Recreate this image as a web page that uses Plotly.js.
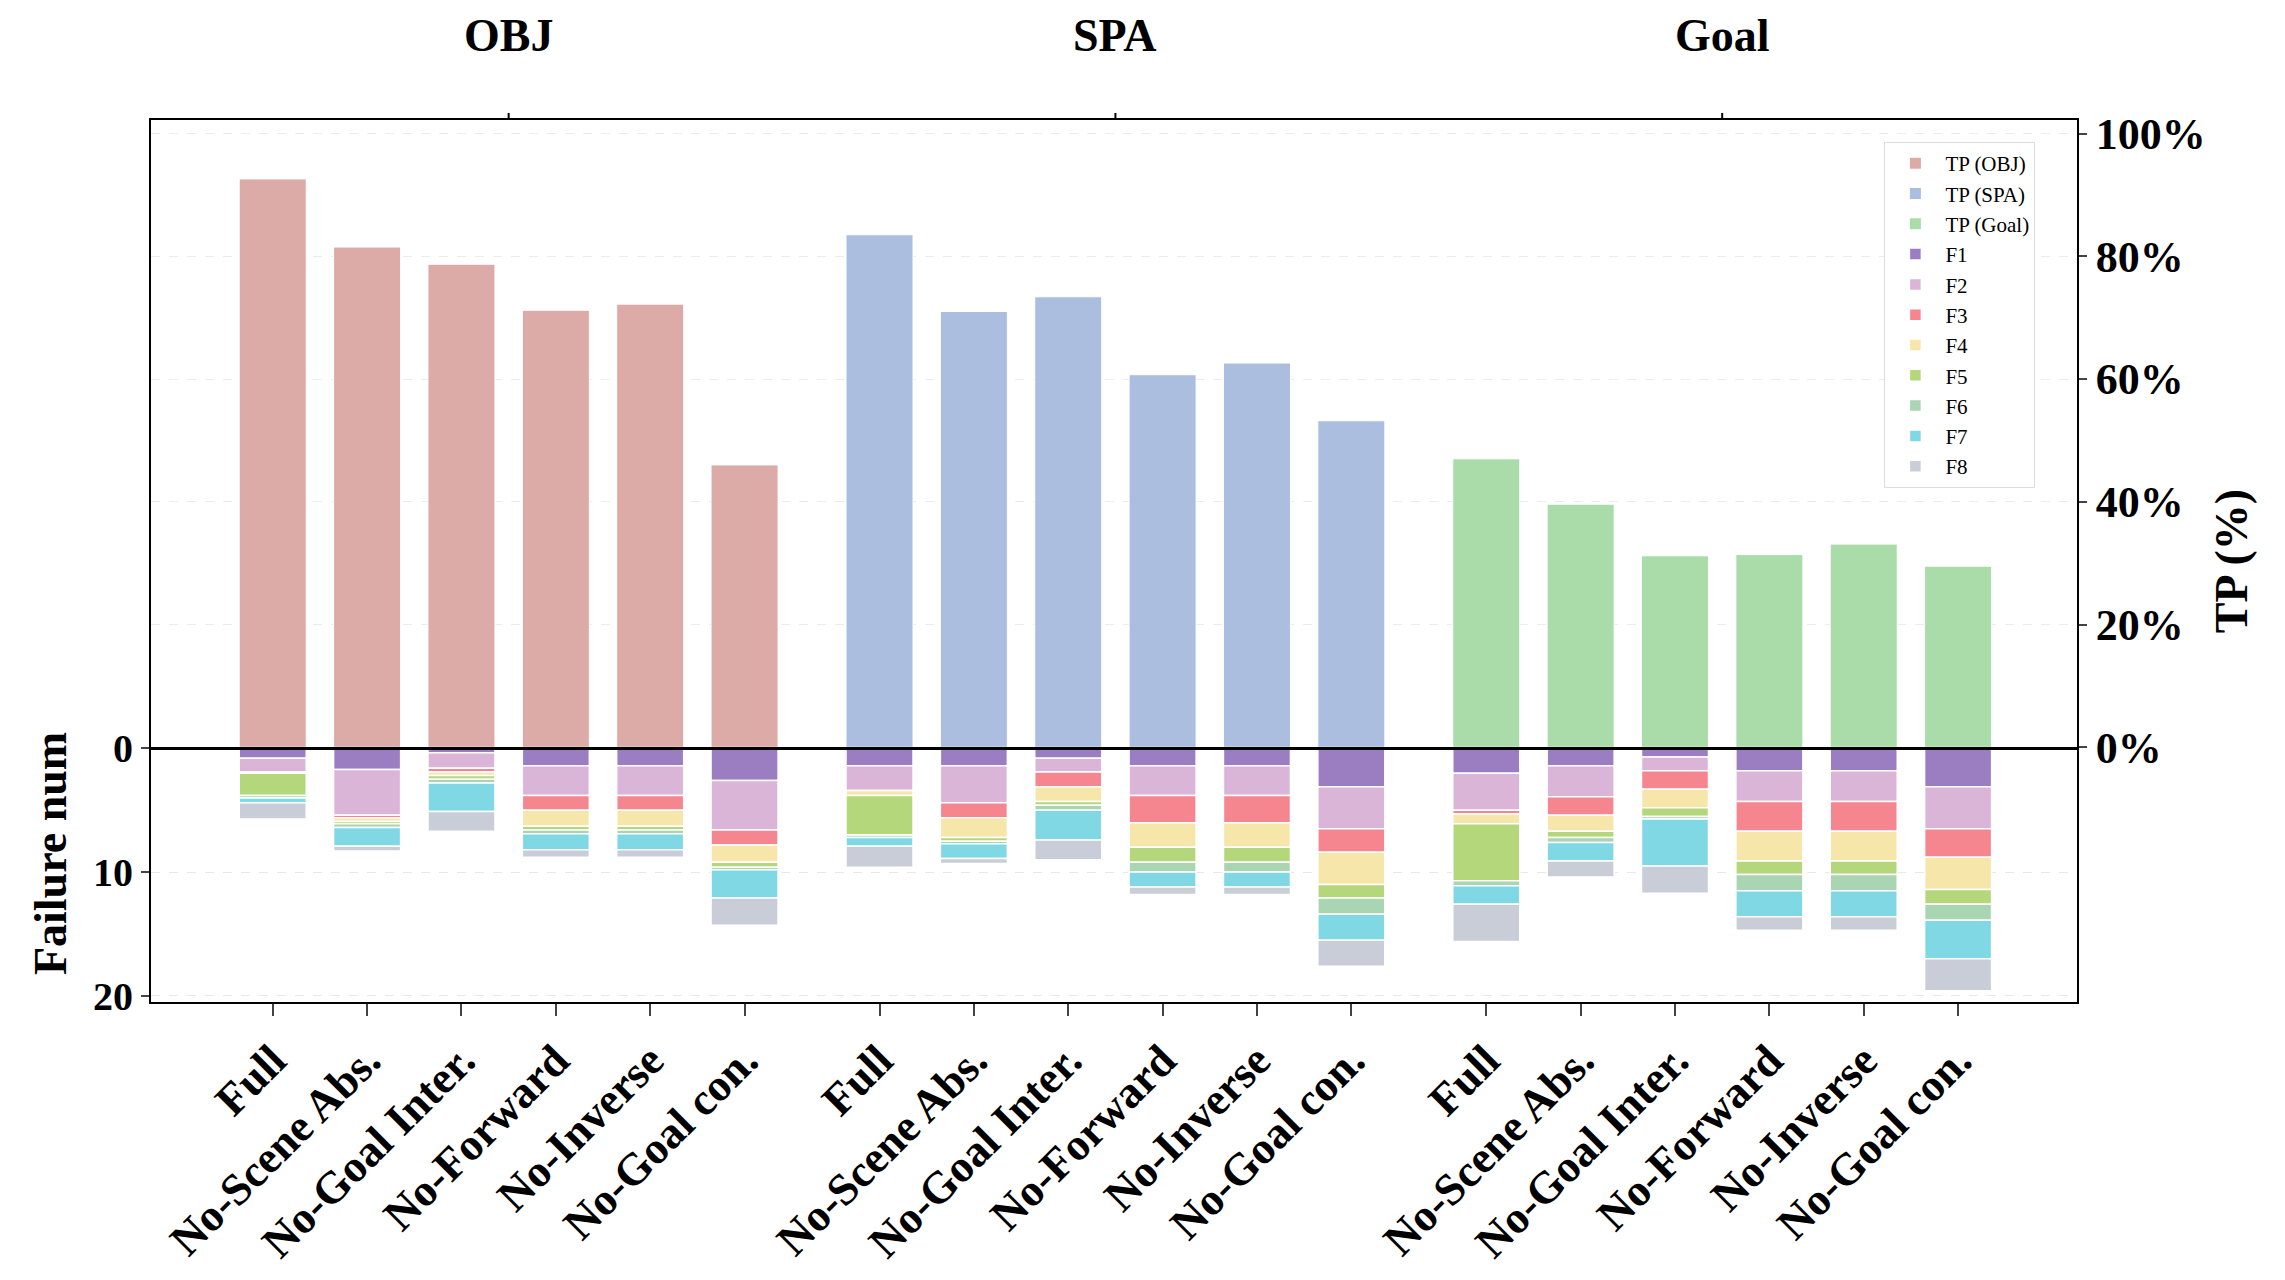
<!DOCTYPE html>
<html><head><meta charset="utf-8">
<script src="https://cdn.plot.ly/plotly-3.0.1.min.js"></script>
<style>body{margin:0;background:#fff}</style></head>
<body><div id="c" style="width:2285px;height:1280px"></div>
<script>
const groups = ['OBJ','SPA','Goal'];
const variants = ['Full','No-Scene Abs.','No-Goal Inter.','No-Forward','No-Inverse','No-Goal con.'];
const tpOBJ  = [92.6, 81.5, 78.7, 71.2, 72.2, 46.0];
const tpSPA  = [83.5, 71.0, 73.4, 60.7, 62.6, 53.2];
const tpGoal = [47.0, 39.6, 31.2, 31.4, 33.1, 29.5];
// failures: 18 bars (OBJ x6, SPA x6, Goal x6)
const F1 = [0.8,1.7,0.35,1.4,1.4,2.6, 1.4,1.4,0.8,1.4,1.4,3.1, 2.0,1.4,0.7,1.8,1.8,3.1];
const F2 = [1.1,3.7,1.25,2.4,2.4,4.0, 2.0,3.0,1.1,2.4,2.4,3.4, 3.0,2.5,1.1,2.5,2.5,3.4];
const F3 = [0.0,0.2,0.3,1.2,1.2,1.2, 0.0,1.2,1.2,2.2,2.2,1.9, 0.3,1.5,1.5,2.4,2.4,2.3];
const F4 = [0.1,0.3,0.3,1.3,1.3,1.4, 0.4,1.6,1.2,2.0,2.0,2.6, 0.8,1.3,1.5,2.4,2.4,2.6];
const F5 = [1.8,0.2,0.3,0.3,0.3,0.4, 3.2,0.3,0.3,1.2,1.2,1.1, 4.6,0.5,0.7,1.1,1.1,1.2];
const F6 = [0.2,0.3,0.3,0.3,0.3,0.2, 0.2,0.2,0.4,0.8,0.8,1.3, 0.4,0.4,0.2,1.3,1.3,1.3];
const F7 = [0.4,1.5,2.3,1.3,1.3,2.3, 0.7,1.2,2.4,1.2,1.2,2.1, 1.5,1.5,3.8,2.1,2.1,3.1];
const F8 = [1.3,0.4,1.6,0.6,0.6,2.2, 1.7,0.4,1.6,0.6,0.6,2.1, 3.0,1.3,2.2,1.1,1.1,2.6];
const fNames = ['F1','F2','F3','F4','F5','F6','F7','F8'];
const fData = [F1,F2,F3,F4,F5,F6,F7,F8];
const fColors = ['#9b7dc1','#dbb5d8','#f5858f','#f7e6aa','#b5d77c','#a9d5b3','#80d8e4','#c9cdd7'];
const tpColors = ['#dcaaa7','#abbee0','#aadcaa'];
const groupGap = 6.43;
const xs = [];
groups.forEach((g,gi)=>variants.forEach((v,vi)=>xs.push(gi*groupGap+vi)));
const font = 'Liberation Serif, Times New Roman, serif';
const traces = [];
[tpOBJ,tpSPA,tpGoal].forEach((arr,gi)=>{
  traces.push({type:'bar',name:'TP ('+groups[gi]+')',x:xs.slice(gi*6,gi*6+6),y:arr,yaxis:'y2',
    width:0.71,marker:{color:tpColors[gi],line:{color:'#fff',width:1}}});
});
fData.forEach((arr,i)=>{
  traces.push({type:'bar',name:fNames[i],x:xs,y:arr.map(v=>-v),yaxis:'y',
    width:0.71,marker:{color:fColors[i],line:{color:'#fff',width:1.5}}});
});
const annotations = groups.map((g,gi)=>({text:'<b>'+g+'</b>',x:gi*groupGap+2.5,xref:'x',y:1.0,yref:'paper',
  yshift:112,showarrow:false,font:{family:font,size:46,color:'#000'}}));
annotations.push({text:'<b>Failure num</b>',textangle:-90,xref:'paper',x:0,xshift:-128,yref:'y',y:-8.5,
  showarrow:false,font:{family:font,size:46,color:'#000'}});
const shapes = [{type:'line',xref:'paper',x0:0,x1:1,yref:'y',y0:0,y1:0,line:{color:'#000',width:3}}];
groups.forEach((g,gi)=>shapes.push({type:'line',xref:'x',x0:gi*groupGap+2.5,x1:gi*groupGap+2.5,yref:'paper',y0:1,y1:1.008,line:{color:'#000',width:2}}));
const layout = {
  width:2285,height:1280,margin:{l:151,r:208,t:120,b:278},
  paper_bgcolor:'#fff',plot_bgcolor:'#fff',barmode:'relative',
  font:{family:font,color:'#000'},
  xaxis:{range:[-1.29,19.12],tickvals:xs,ticktext:xs.map((x,i)=>'<b>'+variants[i%6]+'</b>'),
    tickangle:-45,tickfont:{size:45,family:font},ticks:'outside',ticklen:12,tickwidth:2,
    showline:true,linecolor:'#000',linewidth:2,mirror:true,showgrid:false,zeroline:false},
  yaxis:{range:[-20.5,50.8],tickvals:[0,-10,-20],ticktext:['<b>0</b>','<b>10</b>','<b>20</b>'],
    tickfont:{size:40,family:font},ticks:'outside',ticklen:8,tickwidth:2,
    showline:true,linecolor:'#000',linewidth:2,showgrid:true,gridcolor:'#e8e8e8',griddash:'dash',zeroline:false},
  yaxis2:{overlaying:'y',side:'right',range:[-41.5,102.2],tickvals:[0,20,40,60,80,100],
    ticktext:['<b>0%</b>','<b>20%</b>','<b>40%</b>','<b>60%</b>','<b>80%</b>','<b>100%</b>'],
    tickfont:{size:44,family:font},ticks:'outside',ticklen:8,tickwidth:2,
    showline:true,linecolor:'#000',linewidth:2,showgrid:true,gridcolor:'#ececec',griddash:'dash',zeroline:false,
    title:{text:'<b>TP (%)</b>',font:{size:46,family:font},standoff:10}},
  legend:{x:0.9,y:0.975,xanchor:'left',yanchor:'top',bgcolor:'#fff',bordercolor:'#ddd',borderwidth:1,
    font:{size:21,family:font},traceorder:'normal',itemwidth:50,tracegroupgap:0},
  annotations,shapes
};
Plotly.newPlot('c',traces,layout,{staticPlot:true});
</script></body></html>
